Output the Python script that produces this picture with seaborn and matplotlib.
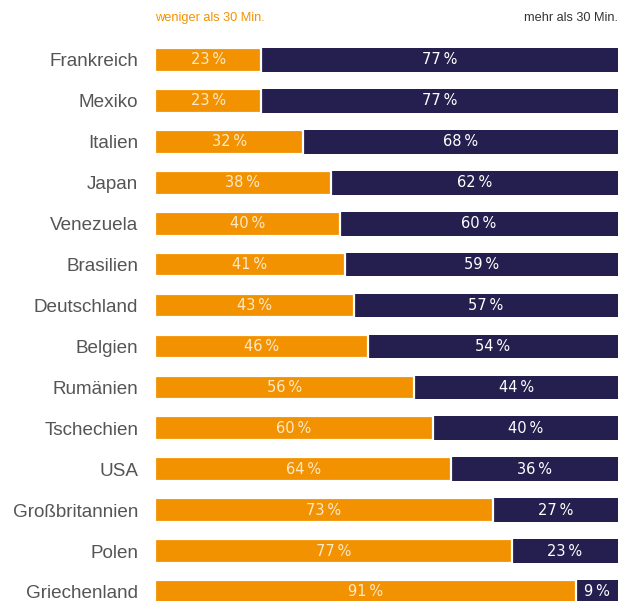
import matplotlib
matplotlib.use("Agg")
import matplotlib.pyplot as plt
import seaborn as sns
import pandas as pd

countries = ["Frankreich", "Mexiko", "Italien", "Japan", "Venezuela", "Brasilien",
             "Deutschland", "Belgien", "Rumänien", "Tschechien", "USA",
             "Großbritannien", "Polen", "Griechenland"]
less_30 = [23, 23, 32, 38, 40, 41, 43, 46, 56, 60, 64, 73, 77, 91]
more_30 = [77, 77, 68, 62, 60, 59, 57, 54, 44, 40, 36, 27, 23, 9]
series_labels = ["weniger als 30 Min.", "mehr als 30 Min."]

ORANGE = "#F39200"
NAVY = "#241F4E"

df = pd.DataFrame({"country": countries, "less": less_30, "more": more_30})
df["total"] = df["less"] + df["more"]

sns.set_theme(style="white")
plt.rcParams["font.family"] = ["Liberation Sans", "DejaVu Sans"]

fig = plt.figure(figsize=(6.21, 6.01), dpi=100)
ax = fig.add_axes([155 / 621, 0, (618 - 155) / 621, 1])

sns.barplot(data=df, x="total", y="country", color=NAVY, saturation=1,
            width=0.58, orient="h", ax=ax, linewidth=0)
sns.barplot(data=df, x="less", y="country", color=ORANGE, saturation=1,
            width=0.58, orient="h", ax=ax, edgecolor="white", linewidth=1.6)

ax.set_xlim(0, 100)
ax.set_ylim(13.22, -1.466)
for s in ax.spines.values():
    s.set_visible(False)
ax.set_xticks([])
ax.set_xlabel("")
ax.set_ylabel("")
ax.tick_params(axis="y", length=0, pad=12, labelsize=13.6, labelcolor="#555555")

for i, (a, b) in enumerate(zip(less_30, more_30)):
    ax.text(a / 2, i, f"{a}\u2009%", ha="center", va="center", fontsize=10.5,
            color="#FDE9C8", family=["DejaVu Sans"])
    ax.text(a + b / 2, i, f"{b}\u2009%", ha="center", va="center", fontsize=10.5,
            color="white", family=["DejaVu Sans"])

ax.text(0, -1.03, series_labels[0], ha="left", va="center", fontsize=9.2,
        color=ORANGE)
ax.text(100, -1.03, series_labels[1], ha="right", va="center", fontsize=9.2,
        color="#333333")

fig.savefig("out.png", dpi=100)
